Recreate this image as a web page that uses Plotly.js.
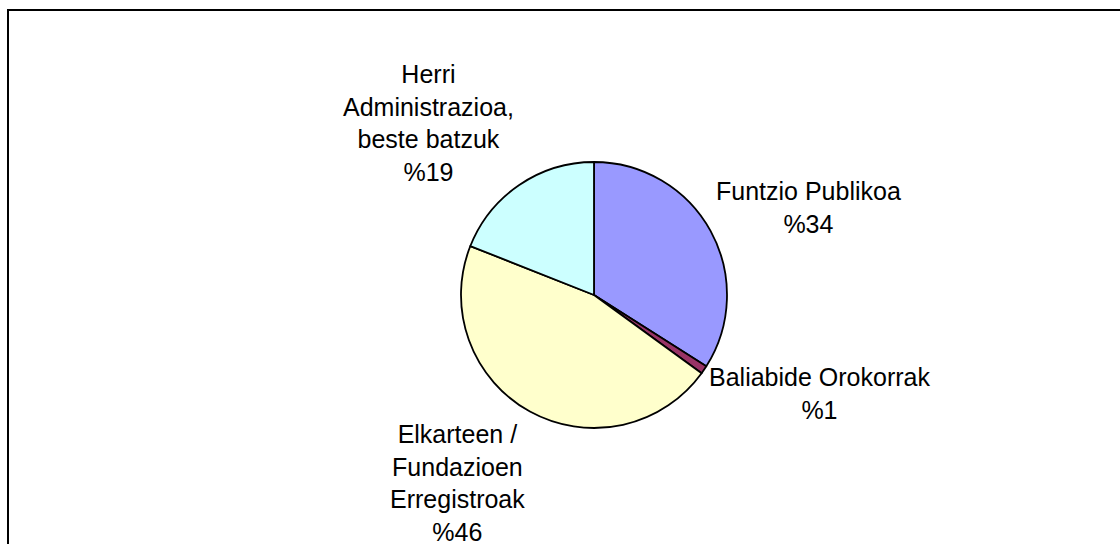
<!DOCTYPE html>
<html>
<head>
<meta charset="utf-8">
<script src="https://cdn.plot.ly/plotly-3.0.1.min.js"></script>
<style>html,body{margin:0;padding:0;background:#fff;}#chart{width:1120px;height:544px;}</style>
</head>
<body>
<div id="chart"></div>
<script>
var categories = ["Funtzio Publikoa", "Baliabide Orokorrak", "Elkarteen / Fundazioen Erregistroak", "Herri Administrazioa, beste batzuk"];
var labelLines = [["Funtzio Publikoa"], ["Baliabide Orokorrak"], ["Elkarteen /", "Fundazioen", "Erregistroak"], ["Herri", "Administrazioa,", "beste batzuk"]];
var values = [34, 1, 46, 19];
var colors = ["#9999FF", "#993366", "#FFFFCC", "#CCFFFF"];

var W = 1120, H = 544, cx = 594, cy = 295, R = 133;
var FONT = "Liberation Sans, Arial, sans-serif", FS = 25, GAP = 8;

var trace = {
  type: "pie",
  labels: categories,
  values: values,
  sort: false,
  direction: "clockwise",
  rotation: 0,
  marker: {colors: colors, line: {color: "#000", width: 1.8}},
  textinfo: "none",
  automargin: false,
  hoverinfo: "none",
  domain: {x: [(cx - R) / W, (cx + R) / W], y: [(H - cy - R) / H, (H - cy + R) / H]}
};

// Label placement derived from each slice's mid angle
var total = values.reduce(function (a, b) { return a + b; }, 0);
var cum = 0;
var annotations = values.map(function (v, i) {
  var th = 2 * Math.PI * (cum + v / 2) / total;
  cum += v;
  var dx = Math.sin(th), dy = -Math.cos(th);
  var px = cx + dx * (R + GAP), py = cy + dy * (R + GAP);
  var upper = dy < 0;
  var off = upper ? 3.4 + 9.2 * Math.abs(dx) : -18 + 36.2 * Math.abs(dx);
  var ay = upper ? py + off : py - off;
  return {
    xref: "paper", yref: "paper",
    x: px / W, y: (H - ay) / H,
    xanchor: dx >= 0 ? "left" : "right",
    yanchor: upper ? "bottom" : "top",
    xshift: dx >= 0 ? -3 : 0,
    borderpad: 0,
    text: labelLines[i].concat(["%" + v]).join("<br>"),
    align: "center",
    showarrow: false,
    font: {family: FONT, size: FS, color: "#000"}
  };
});

var layout = {
  width: W, height: H,
  margin: {l: 0, r: 0, t: 0, b: 0},
  paper_bgcolor: "#fff",
  showlegend: false,
  annotations: annotations,
  shapes: [{
    type: "rect", xref: "paper", yref: "paper",
    x0: 8 / W, x1: 1.05, y0: -0.05, y1: (H - 10) / H,
    line: {color: "#000", width: 2}
  }]
};

Plotly.newPlot("chart", [trace], layout, {displayModeBar: false, staticPlot: true});
</script>
</body>
</html>
